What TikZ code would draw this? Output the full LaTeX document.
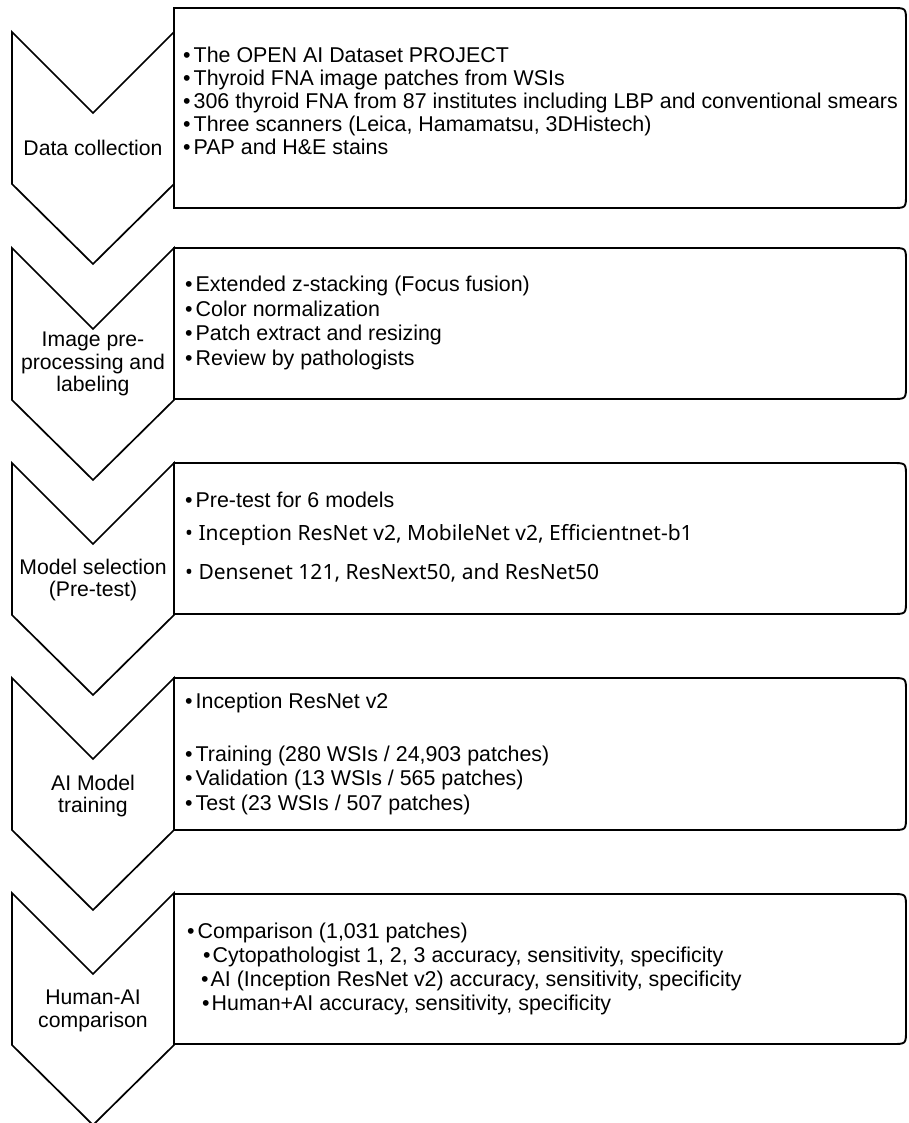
\documentclass[tikz,border=0pt]{standalone}
\usepackage{fontspec}
\setmainfont{Liberation Sans}
\newfontfamily\altfont{Noto Sans}
\newcommand\stagechev[1]{\draw[chev] (12,#1) -- (93,{#1+81}) -- (174,#1) -- (174,{#1+152}) -- (93,{#1+232}) -- (12,{#1+152}) -- cycle;}
\newcommand\stagebox[2]{\draw[boxline] (174,#1) -- (892,#1) .. controls (906,#1) .. (906,{#1+14}) -- (906,{#2-14}) .. controls (906,#2) .. (892,#2) -- (174,#2) -- cycle;}
\newcommand\bul{•\hspace{3pt}}
\newcommand\subbul{•\hspace{2pt}}
\begin{document}
\begin{tikzpicture}[x=1pt,y=-1pt,
  chev/.style={draw=black, line width=1.7pt, line join=miter},
  boxline/.style={draw=black, line width=1.9pt, line join=miter},
  steplabel/.style={font=\fontsize{21.2}{22.5}\selectfont, align=center, inner sep=0pt},
  bulletline/.style={font=\fontsize{21.4}{23}\selectfont, anchor=base west, inner sep=0pt},
  altline/.style={font=\altfont\fontsize{21}{22}\selectfont, anchor=base west, inner sep=0pt}]
\useasboundingbox (0,0) rectangle (908,1123);
% boxes
\stagebox{8}{208}
\stagebox{248}{399}
\stagebox{463}{614}
\stagebox{678}{830}
\stagebox{894}{1044}
% chevrons
\stagechev{32}
\stagechev{248}
\stagechev{463}
\stagechev{678}
\stagechev{893}
% chevron labels
\node[steplabel] (s1) at (93,148) {Data collection};
\node[steplabel] (s2) at (93,364) {Image pre-\\processing and\\labeling};
\node[steplabel] (s3) at (93,580) {Model selection\\(Pre-test)};
\node[steplabel] (s4) at (93,796) {AI Model\\training};
\node[steplabel] (s5) at (93,1011) {Human-AI\\comparison};
% box 1
\node[bulletline] (b1a) at (183,63) {\bul The OPEN AI Dataset PROJECT};
\node[bulletline] (b1b) at (183,86) {\bul Thyroid FNA image patches from WSIs};
\node[bulletline] (b1c) at (183,109) {\bul 306 thyroid FNA from 87 institutes including LBP and conventional smears};
\node[bulletline] (b1d) at (183,132) {\bul Three scanners (Leica, Hamamatsu, 3DHistech)};
\node[bulletline] (b1e) at (183,155) {\bul PAP and H\&E stains};
% box 2
\node[bulletline] (b2a) at (185,291) {\bul Extended z-stacking (Focus fusion)};
\node[bulletline] (b2b) at (185,316) {\bul Color normalization};
\node[bulletline] (b2c) at (185,340) {\bul Patch extract and resizing};
\node[bulletline] (b2d) at (185,365) {\bul Review by pathologists};
% box 3
\node[bulletline] (b3a) at (185,507) {\bul Pre-test for 6 models};
\node[altline] (b3b) at (185,540) {• Inception ResNet v2, MobileNet v2, Efficientnet-b1};
\node[altline] (b3c) at (185,579) {• Densenet 121, ResNext50, and ResNet50};
% box 4
\node[bulletline] (b4a) at (185,708) {\bul Inception ResNet v2};
\node[bulletline] (b4b) at (185,761) {\bul Training (280 WSIs / 24,903 patches)};
\node[bulletline] (b4c) at (185,785) {\bul Validation (13 WSIs / 565 patches)};
\node[bulletline] (b4d) at (185,810) {\bul Test (23 WSIs / 507 patches)};
% box 5
\node[bulletline] (b5a) at (187,938) {\bul Comparison (1,031 patches)};
\node[bulletline] (b5b) at (203,962) {\subbul Cytopathologist 1, 2, 3 accuracy, sensitivity, specificity};
\node[bulletline] (b5c) at (201,986) {\subbul AI (Inception ResNet v2) accuracy, sensitivity, specificity};
\node[bulletline] (b5d) at (202,1010) {\subbul Human+AI accuracy, sensitivity, specificity};
\end{tikzpicture}
\end{document}
